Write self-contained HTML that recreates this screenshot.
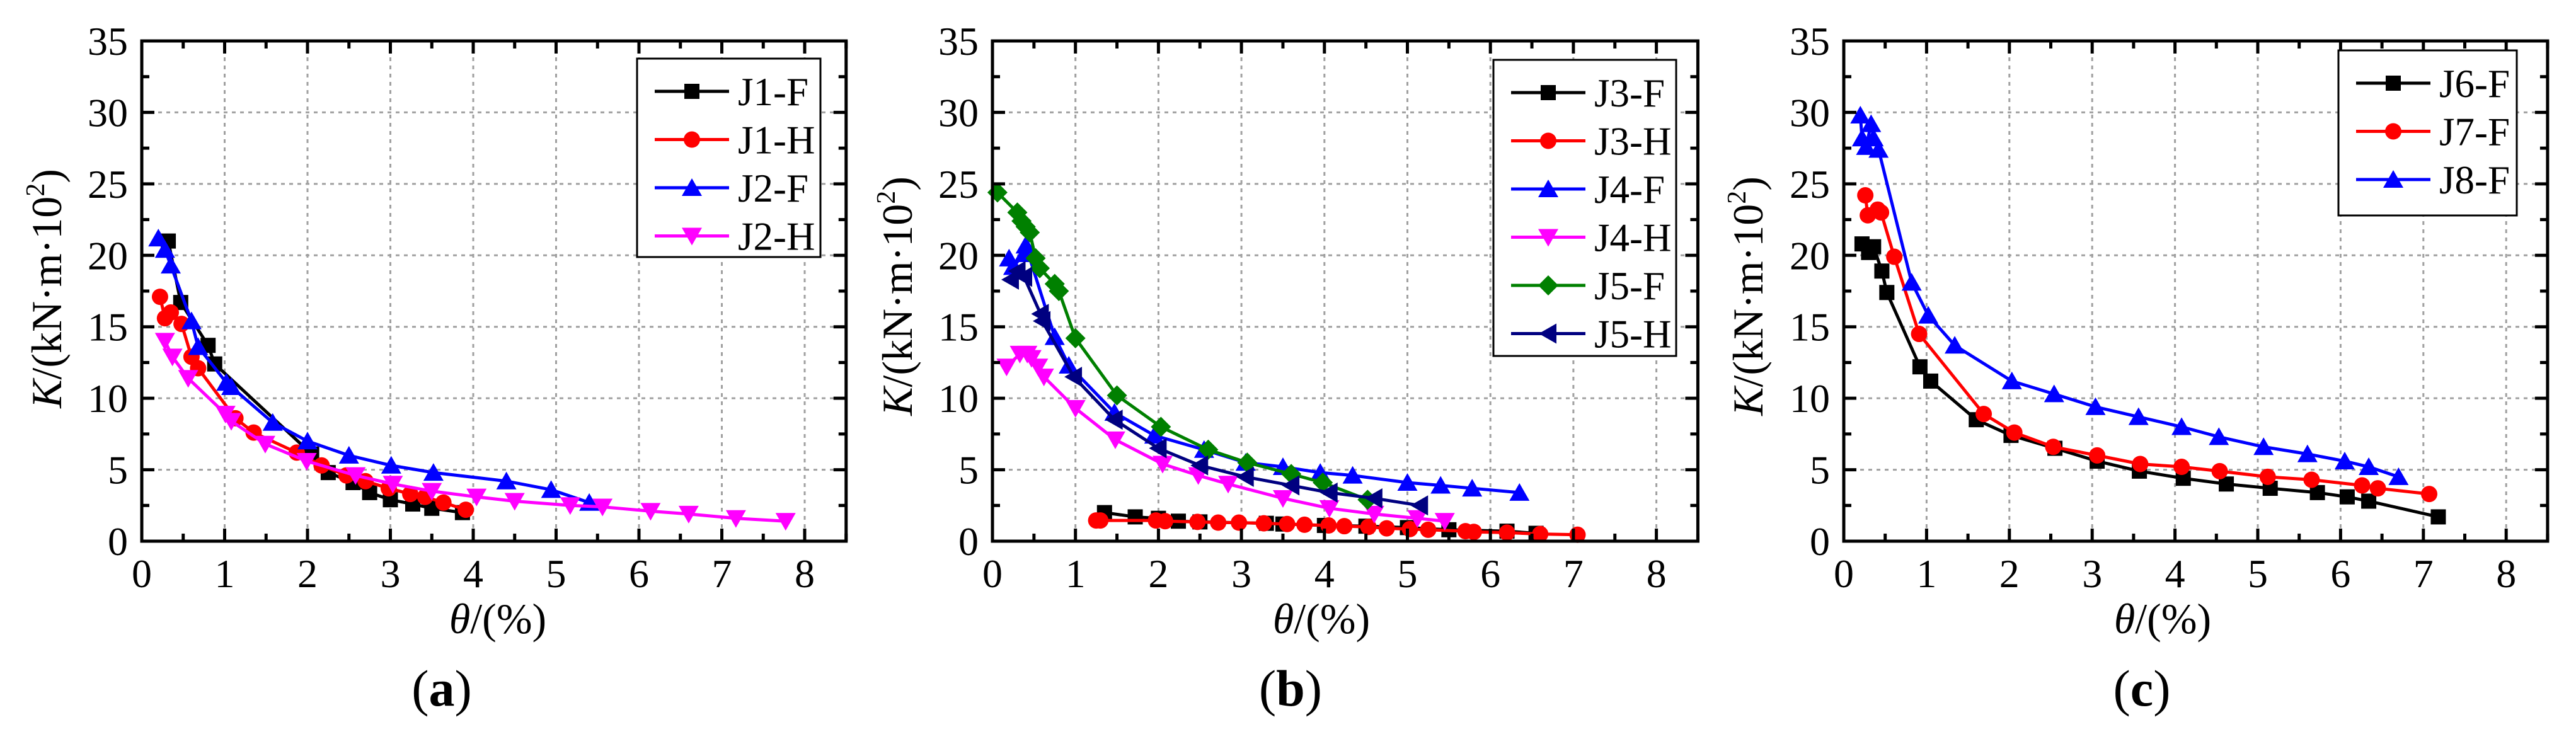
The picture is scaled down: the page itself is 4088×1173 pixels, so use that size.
<!DOCTYPE html>
<html><head><meta charset="utf-8"><style>
html,body{margin:0;padding:0;background:#fff;}
svg, svg text, svg tspan{font-family:"Liberation Serif","Times New Roman",serif;}
</style></head><body>
<svg id="chart" width="4088" height="1168" viewBox="0 0 4088 1168" xmlns="http://www.w3.org/2000/svg" font-family="Liberation Serif, serif"></svg>
<script>
// ---- data ----
const seriesNames_a = ["J1-F","J1-H","J2-F","J2-H"];
const J1F_x=[0.32,0.47,0.8,0.88,2.05,2.25,2.55,2.75,3.0,3.27,3.5,3.87];
const J1F_y=[21.0,16.7,13.7,12.4,6.1,4.8,4.1,3.4,2.9,2.6,2.3,2.0];
const J1H_x=[0.22,0.28,0.35,0.48,0.6,0.68,1.13,1.35,1.87,2.17,2.47,2.7,2.98,3.24,3.42,3.64,3.91];
const J1H_y=[17.1,15.6,16.0,15.2,12.9,12.1,8.6,7.6,6.2,5.3,4.6,4.2,3.7,3.3,3.1,2.7,2.2];
const J2F_x=[0.2,0.28,0.35,0.6,0.68,1.02,1.08,1.58,2.0,2.5,3.01,3.52,4.4,4.94,5.4];
const J2F_y=[21.2,20.4,19.3,15.4,13.6,11.1,10.8,8.3,7.0,6.0,5.3,4.8,4.2,3.6,2.7];
const J2H_x=[0.28,0.37,0.56,1.01,1.08,1.49,1.99,2.58,3.03,3.5,4.04,4.5,5.17,5.56,6.14,6.6,7.17,7.77];
const J2H_y=[14.0,12.9,11.4,8.9,8.4,6.8,5.6,4.6,4.0,3.5,3.1,2.8,2.5,2.4,2.1,1.9,1.6,1.4];

const seriesNames_b = ["J3-F","J3-H","J4-F","J4-H","J5-F","J5-H"];
const J3F_x=[1.35,1.72,2.0,2.24,2.5,3.3,3.5,4.0,4.5,5.0,5.5,6.2,6.55];
const J3F_y=[2.0,1.7,1.6,1.4,1.35,1.25,1.2,1.1,1.05,0.95,0.8,0.7,0.55];
const J3H_x=[1.25,1.3,1.97,2.08,2.47,2.72,2.97,3.27,3.55,3.76,4.05,4.24,4.53,4.75,5.03,5.25,5.7,5.8,6.2,6.6,7.05];
const J3H_y=[1.45,1.45,1.45,1.4,1.35,1.3,1.3,1.25,1.2,1.15,1.1,1.05,1.0,0.9,0.85,0.8,0.7,0.65,0.6,0.5,0.45];
const J4F_x=[0.2,0.25,0.38,0.4,0.75,0.92,1.47,1.95,2.55,3.05,3.5,3.95,4.34,5.0,5.4,5.78,6.35];
const J4F_y=[19.8,19.2,20.1,20.7,14.3,12.3,9.0,7.4,6.4,5.5,5.2,4.8,4.6,4.1,3.9,3.7,3.4];
const J4H_x=[0.17,0.33,0.42,0.47,0.55,0.62,1.0,1.48,2.05,2.48,2.84,3.5,4.06,4.6,5.12,5.45];
const J4H_y=[12.2,13.1,13.1,12.8,12.2,11.5,9.3,7.1,5.4,4.6,4.0,3.0,2.3,1.9,1.6,1.4];
const J5F_x=[0.06,0.3,0.35,0.4,0.45,0.52,0.57,0.75,0.8,1.0,1.5,2.03,2.6,3.07,3.6,3.98,4.52];
const J5F_y=[24.4,23.0,22.4,22.0,21.6,19.8,19.1,18.0,17.5,14.2,10.2,8.0,6.4,5.5,4.7,4.1,2.9];
const J5H_x=[0.22,0.3,0.38,0.58,0.6,0.98,1.47,2.0,2.5,3.05,3.6,4.06,4.6,5.15];
const J5H_y=[18.3,18.9,18.5,15.9,15.4,11.5,8.5,6.5,5.3,4.5,3.9,3.4,3.0,2.5];

const seriesNames_c = ["J6-F","J7-F","J8-F"];
const J6F_x=[0.22,0.3,0.36,0.46,0.52,0.92,1.05,1.6,2.02,2.55,3.06,3.57,4.1,4.62,5.15,5.72,6.08,6.34,7.18];
const J6F_y=[20.8,20.2,20.6,18.9,17.4,12.2,11.2,8.5,7.4,6.5,5.6,4.9,4.4,4.0,3.7,3.4,3.1,2.8,1.7];
const J7F_x=[0.26,0.29,0.41,0.45,0.61,0.91,1.69,2.06,2.53,3.06,3.58,4.08,4.54,5.12,5.65,6.26,6.45,7.07];
const J7F_y=[24.2,22.8,23.2,23.0,19.9,14.5,8.9,7.6,6.6,6.0,5.4,5.2,4.9,4.5,4.3,3.9,3.7,3.3];
const J8F_x=[0.2,0.22,0.27,0.33,0.36,0.42,0.82,1.02,1.34,2.03,2.54,3.04,3.56,4.08,4.53,5.07,5.6,6.05,6.34,6.7];
const J8F_y=[29.8,28.2,27.6,29.2,28.2,27.4,18.1,15.8,13.7,11.2,10.3,9.4,8.7,8.0,7.3,6.6,6.1,5.6,5.2,4.5];

const xTicks=[0,1,2,3,4,5,6,7,8];
const yTicks=[0,5,10,15,20,25,30,35];

// ---- drawing ----
const NS="http://www.w3.org/2000/svg";
const FONT="Liberation Serif, serif";
const svg=document.getElementById('chart');
function mk(tag,attrs,parent){const e=document.createElementNS(NS,tag);for(const k in attrs)e.setAttribute(k,attrs[k]);if(tag==='text')e.setAttribute('font-family',FONT);(parent||svg).appendChild(e);return e;}

const TOP=65,BOT=859,XMAX=8.5,YMAX=35;
function marker(g,type,cx,cy,color){
  let e;
  if(type==='square') e=mk('rect',{x:cx-12,y:cy-12,width:24,height:24,fill:color},g);
  else if(type==='circle') e=mk('circle',{cx:cx,cy:cy,r:13,fill:color},g);
  else if(type==='up') e=mk('polygon',{points:`${cx},${cy-15} ${cx+16},${cy+13} ${cx-16},${cy+13}`,fill:color},g);
  else if(type==='down') e=mk('polygon',{points:`${cx},${cy+15} ${cx+16},${cy-13} ${cx-16},${cy-13}`,fill:color},g);
  else if(type==='diamond') e=mk('polygon',{points:`${cx},${cy-16} ${cx+16},${cy} ${cx},${cy+16} ${cx-16},${cy}`,fill:color},g);
  else if(type==='left') e=mk('polygon',{points:`${cx-15},${cy} ${cx+13},${cy-16} ${cx+13},${cy+16}`,fill:color},g);
  return e;
}

function panel(id,L,unit,series,legend,ylab,xtitle,plabel){
  const R=L+XMAX*unit;
  const sx=v=>L+v*unit, sy=v=>BOT-(v/YMAX)*(BOT-TOP);
  const g=mk('g',{});
  
  
  xTicks.forEach(t=>{if(t>0){const l=mk('line',{x1:sx(t),x2:sx(t),y1:TOP,y2:BOT,stroke:'#a0a0a0','stroke-width':3,'stroke-dasharray':'6 7'},g);}});
  yTicks.forEach(t=>{if(t>0&&t<YMAX){const l=mk('line',{x1:L,x2:R,y1:sy(t),y2:sy(t),stroke:'#a0a0a0','stroke-width':3,'stroke-dasharray':'6 7'},g);}});
  series.forEach(s=>{
    const sg=mk('g',{},g);
    
    
    const pts=s.x.map((v,i)=>sx(v)+','+sy(s.y[i])).join(' ');
    mk('polyline',{points:pts,fill:'none',stroke:s.color,'stroke-width':5,'stroke-linejoin':'round'},sg);
    s.x.forEach((v,i)=>{const m=marker(sg,s.m,sx(v),sy(s.y[i]),s.color);});
  });
  for(let v=0;v<=XMAX+0.01;v+=0.5){
    const major=Math.abs(v-Math.round(v))<0.01, len=major?20:12;
    mk('line',{x1:sx(v),x2:sx(v),y1:BOT,y2:BOT-len,stroke:'#000','stroke-width':5},g);
    mk('line',{x1:sx(v),x2:sx(v),y1:TOP,y2:TOP+len,stroke:'#000','stroke-width':5},g);
  }
  for(let v=0;v<=YMAX;v+=2.5){
    const major=v%5===0, len=major?20:12;
    mk('line',{x1:L,x2:L+len,y1:sy(v),y2:sy(v),stroke:'#000','stroke-width':5},g);
    mk('line',{x1:R,x2:R-len,y1:sy(v),y2:sy(v),stroke:'#000','stroke-width':5},g);
  }
  const fr=mk('rect',{x:L,y:TOP,width:R-L,height:BOT-TOP,fill:'none',stroke:'#000','stroke-width':5},g);
  
  xTicks.forEach(t=>{const e=mk('text',{x:sx(t),y:932,'font-size':64,'text-anchor':'middle'},g);e.textContent=t;});
  yTicks.forEach(t=>{const e=mk('text',{x:L-22,y:sy(t)+22,'font-size':64,'text-anchor':'end'},g);e.textContent=t;});
  const yt=mk('text',{transform:`translate(${ylab[0]},${ylab[1]}) rotate(-90)`,'font-size':68,'text-anchor':'middle'},g);
  yt.innerHTML='<tspan font-style="italic">K</tspan>/(kN·m·10<tspan font-size="42" dy="-27">2</tspan><tspan dy="27">)</tspan>';
  
  const xt=mk('text',{x:xtitle,y:1005,'font-size':68,'text-anchor':'middle'},g);
  xt.innerHTML='<tspan font-style="italic">θ</tspan>/(%)';
  
  const pl=mk('text',{x:plabel,y:1120,'font-size':82,'text-anchor':'middle'},g);
  pl.innerHTML='(<tspan font-weight="bold">'+id+'</tspan>)';
  
  const lg=mk('g',{},g);
  
  mk('rect',{x:legend[0],y:legend[1],width:legend[2],height:legend[3],fill:'#fff',stroke:'#000','stroke-width':3},lg);
  series.forEach((s,i)=>{
    const y=legend[1]+52+i*76.5, x0=legend[0]+28;
    const eg=mk('g',{},lg);
    
    mk('line',{x1:x0,x2:x0+118,y1:y,y2:y,stroke:s.color,'stroke-width':5},eg);
    marker(eg,s.m,x0+59,y,s.color);
    const t=mk('text',{x:x0+132,y:y+22,'font-size':63},eg);t.textContent=s.name;
  });
}

panel('a',225,131.5,[
 {name:seriesNames_a[0],x:J1F_x,y:J1F_y,color:'#000',m:'square'},
 {name:seriesNames_a[1],x:J1H_x,y:J1H_y,color:'#ff0000',m:'circle'},
 {name:seriesNames_a[2],x:J2F_x,y:J2F_y,color:'#0000ff',m:'up'},
 {name:seriesNames_a[3],x:J2H_x,y:J2H_y,color:'#ff00ff',m:'down'}],
 [1011,93,291,315],[97,458],790,701);
panel('b',1575,131.7,[
 {name:seriesNames_b[0],x:J3F_x,y:J3F_y,color:'#000',m:'square'},
 {name:seriesNames_b[1],x:J3H_x,y:J3H_y,color:'#ff0000',m:'circle'},
 {name:seriesNames_b[2],x:J4F_x,y:J4F_y,color:'#0000ff',m:'up'},
 {name:seriesNames_b[3],x:J4H_x,y:J4H_y,color:'#ff00ff',m:'down'},
 {name:seriesNames_b[4],x:J5F_x,y:J5F_y,color:'#008000',m:'diamond'},
 {name:seriesNames_b[5],x:J5H_x,y:J5H_y,color:'#000080',m:'left'}],
 [2370,95,290,470],[1447,470],2097,2048);
panel('c',2926,131.4,[
 {name:seriesNames_c[0],x:J6F_x,y:J6F_y,color:'#000',m:'square'},
 {name:seriesNames_c[1],x:J7F_x,y:J7F_y,color:'#ff0000',m:'circle'},
 {name:seriesNames_c[2],x:J8F_x,y:J8F_y,color:'#0000ff',m:'up'}],
 [3711,80,283,262],[2797,470],3432,3399);
</script>
</body></html>
